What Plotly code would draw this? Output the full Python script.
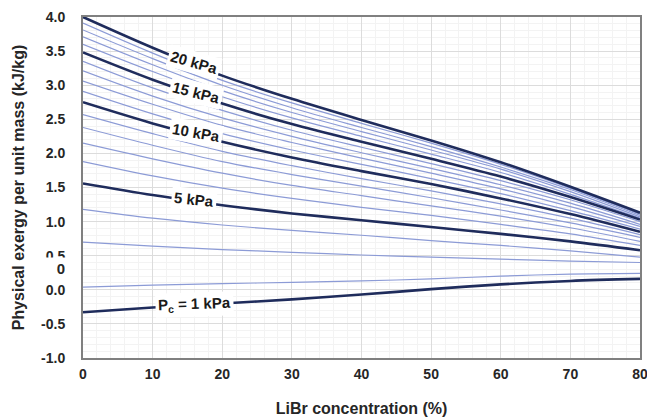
import plotly.graph_objects as go

conc = [0, 10, 20, 30, 40, 50, 60, 70, 80]
pressures = list(range(1, 21))

exergy = {
    1:  [-0.33, -0.26, -0.20, -0.14, -0.07, 0.01, 0.08, 0.13, 0.16],
    2:  [0.04, 0.07, 0.09, 0.11, 0.13, 0.16, 0.20, 0.23, 0.24],
    3:  [0.70, 0.64, 0.59, 0.55, 0.51, 0.48, 0.45, 0.42, 0.40],
    4:  [1.18, 1.05, 0.95, 0.87, 0.80, 0.72, 0.65, 0.57, 0.48],
    5:  [1.56, 1.39, 1.24, 1.12, 1.02, 0.92, 0.82, 0.71, 0.58],
    6:  [1.88, 1.67, 1.49, 1.34, 1.21, 1.09, 0.96, 0.82, 0.65],
    7:  [2.15, 1.92, 1.71, 1.53, 1.38, 1.23, 1.08, 0.91, 0.71],
    8:  [2.38, 2.12, 1.88, 1.69, 1.52, 1.35, 1.17, 0.98, 0.77],
    9:  [2.57, 2.29, 2.03, 1.82, 1.63, 1.45, 1.26, 1.05, 0.81],
    10: [2.75, 2.44, 2.17, 1.94, 1.74, 1.55, 1.34, 1.11, 0.85],
    11: [2.91, 2.58, 2.29, 2.05, 1.84, 1.63, 1.41, 1.16, 0.89],
    12: [3.06, 2.72, 2.41, 2.16, 1.93, 1.71, 1.48, 1.22, 0.93],
    13: [3.21, 2.84, 2.52, 2.25, 2.01, 1.78, 1.54, 1.27, 0.96],
    14: [3.35, 2.96, 2.63, 2.34, 2.09, 1.85, 1.60, 1.32, 1.00],
    15: [3.48, 3.08, 2.73, 2.43, 2.17, 1.92, 1.66, 1.36, 1.03],
    16: [3.60, 3.20, 2.83, 2.52, 2.25, 1.99, 1.72, 1.40, 1.05],
    17: [3.71, 3.30, 2.92, 2.60, 2.32, 2.05, 1.77, 1.44, 1.07],
    18: [3.81, 3.39, 3.00, 2.67, 2.38, 2.10, 1.80, 1.47, 1.09],
    19: [3.91, 3.47, 3.07, 2.74, 2.44, 2.15, 1.84, 1.49, 1.11],
    20: [4.00, 3.55, 3.14, 2.80, 2.49, 2.19, 1.87, 1.51, 1.13],
}

highlight = [1, 5, 10, 15, 20]
label_text = {20: "20 kPa", 15: "15 kPa", 10: "10 kPa", 5: "5 kPa", 1: "P<sub>c</sub> = 1 kPa"}
label_x = {20: 16, 15: 16.2, 10: 16.2, 5: 16, 1: 16}
label_y = {20: 3.33, 15: 2.89, 10: 2.30, 5: 1.32, 1: -0.22}
label_angle = {20: 16, 15: 14, 10: 10, 5: 6, 1: -2}

y_ticks = [-1.0, -0.5, 0.0, 0.5, 1.0, 1.5, 2.0, 2.5, 3.0, 3.5, 4.0]
x_ticks = [0, 10, 20, 30, 40, 50, 60, 70, 80]

FONT = "Liberation Sans, Arial, sans-serif"

fig = go.Figure()
for p in pressures:
    if p in highlight:
        continue
    fig.add_trace(go.Scatter(x=conc, y=exergy[p], mode="lines",
                             line=dict(color="#8c9bd6", width=1.2, shape="spline", smoothing=0.9),
                             showlegend=False, hoverinfo="skip"))
for p in highlight:
    fig.add_trace(go.Scatter(x=conc, y=exergy[p], mode="lines",
                             line=dict(color="#1f2c5c", width=2.6, shape="spline", smoothing=0.9),
                             showlegend=False, hoverinfo="skip"))

for p in highlight:
    fig.add_annotation(x=label_x[p], y=label_y[p], text="<b>" + label_text[p] + "</b>",
                       showarrow=False, textangle=label_angle[p], bgcolor="white",
                       borderpad=2, font=dict(family=FONT, size=15, color="#1a1a1a"))

# overlapped tick label artifact seen in the reference
fig.add_annotation(xref="paper", x=-0.027, xanchor="right", y=0.31, yref="y",
                   text="<b>0</b>", showarrow=False, bgcolor="white", width=30,
                   align="right", borderpad=2,
                   font=dict(family=FONT, size=15, color="#262626"))

fig.update_xaxes(range=[0, 80], tickvals=x_ticks, ticktext=[f"<b>{v}</b>" for v in x_ticks],
                 showgrid=True, gridcolor="#dcdcdc", gridwidth=1,
                 minor=dict(dtick=2, showgrid=True, gridcolor="#f3f3f3", gridwidth=1),
                 showline=True, linecolor="#808080", linewidth=2, mirror=True,
                 ticks="", ticklabelstandoff=2, zeroline=False, automargin=False,
                 ticklabeloverflow="allow",
                 tickfont=dict(family=FONT, size=14, color="#262626"),
                 title=dict(text="<b>LiBr concentration (%)</b>", standoff=22,
                            font=dict(family=FONT, size=16, color="#262626")))
fig.update_yaxes(range=[-1, 4], tickvals=y_ticks, ticktext=[f"<b>{v:.1f}</b>" for v in y_ticks],
                 showgrid=True, gridcolor="#dcdcdc", gridwidth=1,
                 minor=dict(dtick=0.1, showgrid=True, gridcolor="#f3f3f3", gridwidth=1),
                 showline=True, linecolor="#808080", linewidth=2, mirror=True,
                 ticks="", ticklabelstandoff=13, zeroline=False, automargin=False,
                 ticklabeloverflow="allow",
                 tickfont=dict(family=FONT, size=14, color="#262626"),
                 title=dict(text="<b>Physical exergy per unit mass (kJ/kg)</b>", standoff=12,
                            font=dict(family=FONT, size=16, color="#262626")))

fig.update_layout(width=647, height=420, margin=dict(l=83, r=7, t=17, b=62),
                  plot_bgcolor="white", paper_bgcolor="white")

fig.write_html("out.html")
